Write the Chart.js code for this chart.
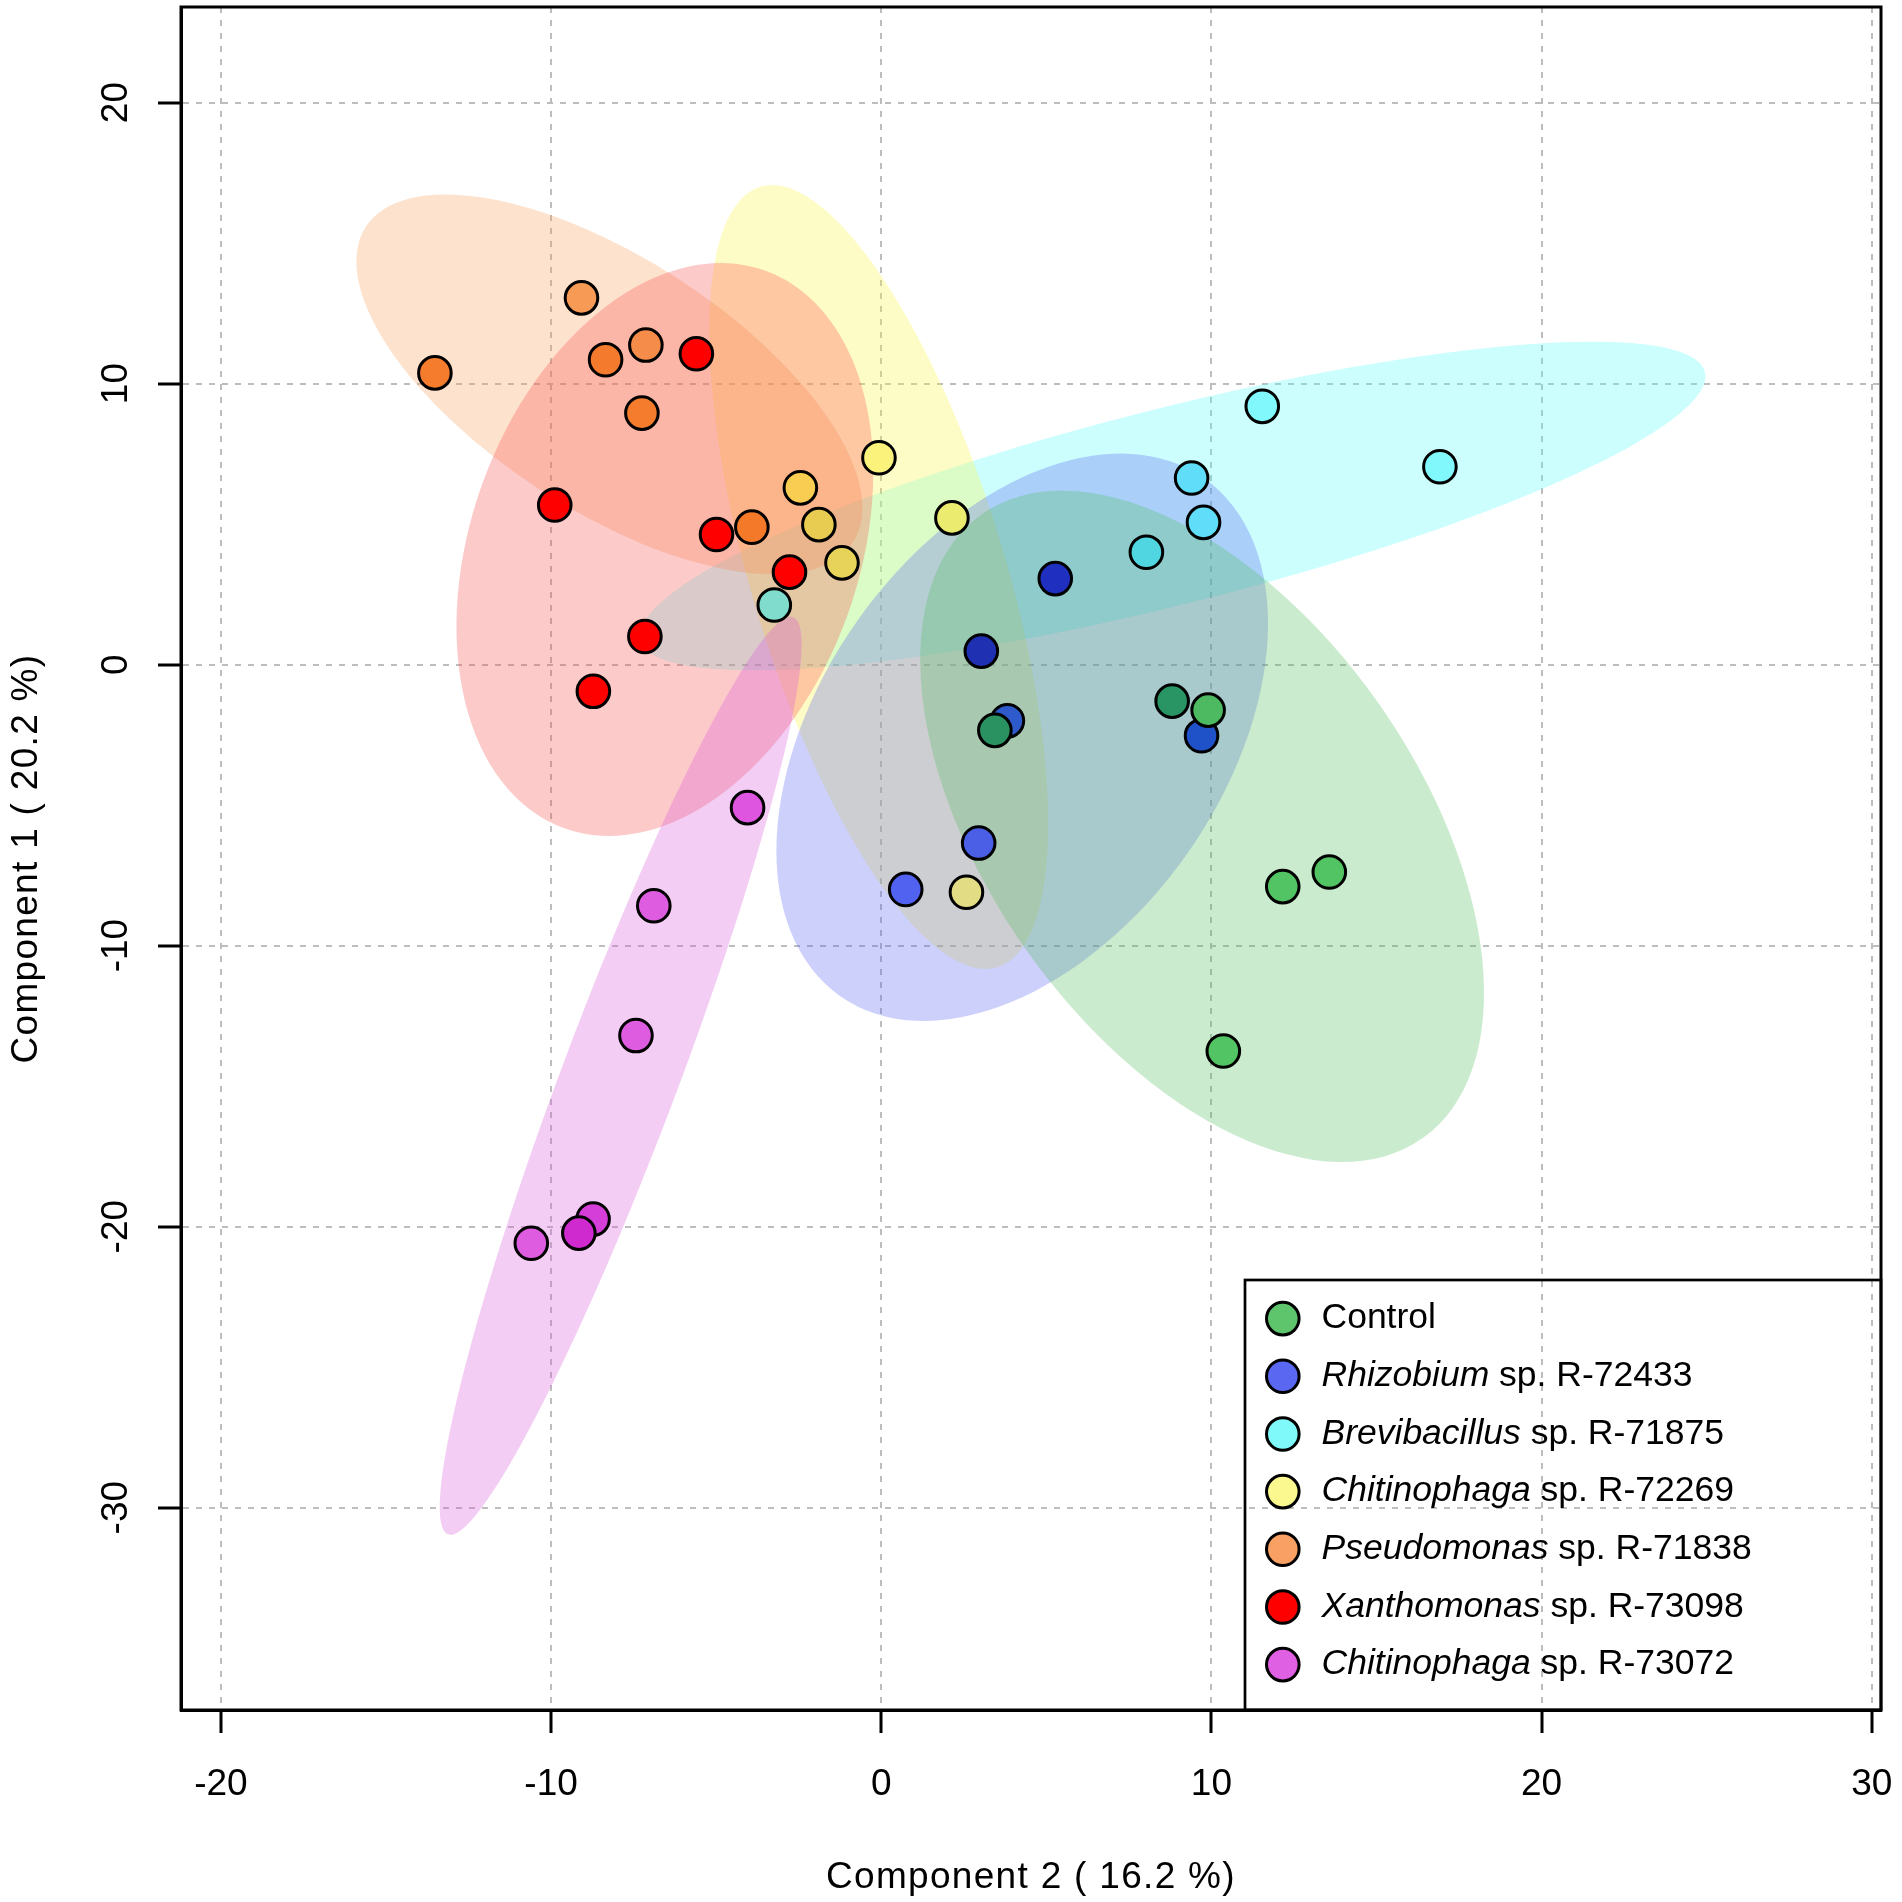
<!DOCTYPE html>
<html>
<head>
<meta charset="utf-8">
<script src="https://cdn.jsdelivr.net/npm/chart.js@4.4.1/dist/chart.umd.min.js"></script>
<style>
html,body{margin:0;padding:0;background:#ffffff;}
#wrap{width:1902px;height:1902px;position:relative;}
canvas{display:block;}
</style>
</head>
<body>
<div id="wrap"><canvas id="c" width="1902" height="1902"></canvas></div>
<script>
// ---------------- DATA ----------------
const xTicks = [-20, -10, 0, 10, 20, 30];
const yTicks = [-30, -20, -10, 0, 10, 20];
const xTitle = 'Component 2 ( 16.2 %)';
const yTitle = 'Component 1 ( 20.2 %)';

// group order: Control, Rhizobium, Brevibacillus, Chitinophaga R-72269, Pseudomonas, Xanthomonas, Chitinophaga R-73072
const legendItalic = ['', 'Rhizobium', 'Brevibacillus', 'Chitinophaga', 'Pseudomonas', 'Xanthomonas', 'Chitinophaga'];
const legendRest   = ['Control', ' sp. R-72433', ' sp. R-71875', ' sp. R-72269', ' sp. R-71838', ' sp. R-73098', ' sp. R-73072'];

const controlX = [3.44, 8.81, 9.90, 12.16, 13.57, 10.36];
const controlY = [-2.34, -1.30, -1.62, -7.90, -7.38, -13.75];

const rhizobiumX = [5.27, 3.03, 3.82, 9.70, 2.95, 0.74];
const rhizobiumY = [3.06, 0.48, -2.00, -2.53, -6.35, -8.00];

const brevibacillusX = [11.54, 16.92, 9.40, 9.76, 8.03, -3.24];
const brevibacillusY = [9.19, 7.04, 6.64, 5.06, 4.00, 2.12];

const chitino1X = [-0.07, -2.45, -1.89, -1.19, 2.14, 2.58];
const chitino1Y = [7.36, 6.29, 4.98, 3.62, 5.22, -8.10];

const pseudomonasX = [-9.08, -7.13, -8.35, -13.52, -7.25, -3.92];
const pseudomonasY = [13.05, 11.37, 10.85, 10.38, 8.95, 4.89];

const xanthomonasX = [-5.60, -9.89, -4.99, -2.78, -7.16, -8.72];
const xanthomonasY = [11.06, 5.68, 4.63, 3.29, 1.00, -0.95];

const chitino2X = [-4.05, -6.89, -7.43, -8.73, -9.16, -10.60];
const chitino2Y = [-5.09, -8.58, -13.20, -19.73, -20.23, -20.59];

// confidence ellipses (data units): centre, semi-major vector, semi-minor vector
const ellipseCX = [9.718, 4.269, 8.825, -0.076, -8.235, -6.555, -7.893];
const ellipseCY = [-5.754, -2.587, 5.644, 3.117, 9.968, 4.096, -14.633];
const ellipseAX = [6.682, 5.519, 16.122, 3.588, 7.378, 3.049, 5.229];
const ellipseAY = [-11.096, 9.206, 4.769, -13.886, -5.609, 9.921, 16.317];
const ellipseBX = [-5.316, 4.998, 0.724, -3.669, -2.074, 5.527, 1.644];
const ellipseBY = [-4.423, -4.142, -3.384, -1.310, -3.769, -2.348, -0.726];

// ---------------- STYLE ----------------
const FONT = '"Liberation Sans", Arial, Helvetica, sans-serif';
const legendColors = ['#5EC56C', '#5A67F0', '#80F9FA', '#FCF890', '#F9A064', '#FF0000', '#E060E4'];
const ellipseFill = [
  'rgba(82,188,95,0.3)',   // Control
  'rgba(88,98,238,0.3)',   // Rhizobium
  'rgba(85,252,252,0.3)',  // Brevibacillus
  'rgba(252,245,65,0.3)',  // Chitinophaga R-72269
  'rgba(248,158,88,0.3)',  // Pseudomonas
  'rgba(250,78,78,0.3)',   // Xanthomonas
  'rgba(215,88,215,0.3)'   // Chitinophaga R-73072
];
const ellipseDrawOrder = [2, 3, 1, 0, 4, 5, 6];

const controlFill = ['#2A9161', '#2A9564', '#4DBA62', '#52C464', '#52C464', '#52C464'];
const rhizobiumFill = ['#1F2FBF', '#1F30B3', '#2E5ACB', '#1F52C8', '#4A5FE6', '#5262F0'];
const brevibacillusFill = ['#80F8FC', '#80F8FC', '#60DDF8', '#60DDF8', '#50D6E0', '#80DCCC'];
const chitino1Fill = ['#FAF27A', '#F9CC52', '#E8CC52', '#E8D35A', '#EBEB70', '#E2DC84'];
const pseudomonasFill = ['#F79A55', '#F68C4A', '#F47B2D', '#F47C2C', '#F47C2C', '#F47A2A'];
const xanthomonasFill = ['#FF0000', '#FF0000', '#FF0000', '#FF0000', '#FF0000', '#FF0000'];
const chitino2Fill = ['#DE55E0', '#DD5CE0', '#DD5CE0', '#D63ED9', '#CF2ACF', '#DD5CE0'];

function pts(xs, ys) { return xs.map((v, i) => ({x: v, y: ys[i]})); }
function ds(label, xs, ys, fill) {
  return {
    label: label,
    data: pts(xs, ys),
    pointRadius: 16.3,
    pointHoverRadius: 16.3,
    pointBorderWidth: 3,
    pointHoverBorderWidth: 3,
    pointBorderColor: '#000000',
    pointBackgroundColor: fill,
    pointHoverBackgroundColor: fill,
    showLine: false,
    clip: false
  };
}

// index 0 is drawn on top
const datasets = [
  ds('Control', controlX, controlY, controlFill),
  ds('Chitinophaga sp. R-73072', chitino2X, chitino2Y, chitino2Fill),
  ds('Pseudomonas sp. R-71838', pseudomonasX, pseudomonasY, pseudomonasFill),
  ds('Xanthomonas sp. R-73098', xanthomonasX, xanthomonasY, xanthomonasFill),
  ds('Chitinophaga sp. R-72269', chitino1X, chitino1Y, chitino1Fill),
  ds('Brevibacillus sp. R-71875', brevibacillusX, brevibacillusY, brevibacillusFill),
  ds('Rhizobium sp. R-72433', rhizobiumX, rhizobiumY, rhizobiumFill)
];

const ellipsePlugin = {
  id: 'ellipses',
  beforeDatasetsDraw(chart) {
    const {ctx, chartArea: a, scales: {x, y}} = chart;
    ctx.save();
    ctx.beginPath();
    ctx.rect(a.left, a.top, a.right - a.left, a.bottom - a.top);
    ctx.clip();
    ellipseDrawOrder.forEach(i => {
      const cx = x.getPixelForValue(ellipseCX[i]);
      const cy = y.getPixelForValue(ellipseCY[i]);
      const ax = x.getPixelForValue(ellipseCX[i] + ellipseAX[i]) - cx;
      const ay = y.getPixelForValue(ellipseCY[i] + ellipseAY[i]) - cy;
      const bx = x.getPixelForValue(ellipseCX[i] + ellipseBX[i]) - cx;
      const by = y.getPixelForValue(ellipseCY[i] + ellipseBY[i]) - cy;
      ctx.save();
      ctx.transform(ax, ay, bx, by, cx, cy);
      ctx.beginPath();
      ctx.arc(0, 0, 1, 0, Math.PI * 2);
      ctx.closePath();
      ctx.restore();
      ctx.fillStyle = ellipseFill[i];
      ctx.fill();
    });
    ctx.restore();
  }
};

const decorPlugin = {
  id: 'decor',
  afterDraw(chart) {
    const {ctx, chartArea: a, scales: {y}} = chart;
    ctx.save();
    // full box
    ctx.strokeStyle = '#000';
    ctx.lineWidth = 3;
    ctx.strokeRect(a.left, a.top, a.right - a.left, a.bottom - a.top);

    // y tick labels (rotated, like R)
    ctx.fillStyle = '#000';
    ctx.font = '37px ' + FONT;
    ctx.textAlign = 'center';
    ctx.textBaseline = 'middle';
    y.ticks.forEach(t => {
      const py = y.getPixelForValue(t.value);
      ctx.save();
      ctx.translate(117, py);
      ctx.rotate(-Math.PI / 2);
      ctx.fillText(String(t.value), 0, 0);
      ctx.restore();
    });

    // axis titles
    ctx.font = '37px ' + FONT;
    try { ctx.letterSpacing = '1.3px'; } catch (e) {}
    ctx.textAlign = 'center';
    ctx.textBaseline = 'alphabetic';
    ctx.fillText(xTitle, (a.left + a.right) / 2, 1888);
    ctx.save();
    ctx.translate(27, (a.top + a.bottom) / 2);
    ctx.rotate(-Math.PI / 2);
    ctx.textBaseline = 'middle';
    ctx.fillText(yTitle, 0, 0);
    ctx.restore();
    try { ctx.letterSpacing = '0px'; } catch (e) {}

    // legend
    const L = 1245, T = 1280;
    ctx.lineWidth = 2.7;
    ctx.strokeStyle = '#000';
    ctx.strokeRect(L, T, a.right - L, a.bottom - T);
    const rowH = 57.67;
    for (let i = 0; i < legendRest.length; i++) {
      const cy = 1318.6 + i * rowH;
      ctx.beginPath();
      ctx.arc(1282.8, cy, 16.3, 0, Math.PI * 2);
      ctx.fillStyle = legendColors[i];
      ctx.fill();
      ctx.lineWidth = 3;
      ctx.strokeStyle = '#000';
      ctx.stroke();
      ctx.fillStyle = '#000';
      ctx.textAlign = 'left';
      ctx.textBaseline = 'alphabetic';
      let tx = 1321.5;
      const by = cy + 9.6;
      if (legendItalic[i]) {
        ctx.font = 'italic 35.5px ' + FONT;
        ctx.fillText(legendItalic[i], tx, by);
        tx += ctx.measureText(legendItalic[i]).width;
      }
      ctx.font = '35.5px ' + FONT;
      ctx.fillText(legendRest[i], tx, by);
    }
    ctx.restore();
  }
};

const gridCommon = {
  color: '#bdbdbd',
  lineWidth: 2,
  drawOnChartArea: true,
  drawTicks: true,
  tickLength: 23,
  tickColor: '#000000',
  tickWidth: 3,
  tickBorderDash: []
};
const borderCommon = {display: true, color: '#000000', width: 3, dash: [6, 7]};

function zeroPad(s) { s.paddingLeft = 0; s.paddingRight = 0; s.paddingTop = 0; s.paddingBottom = 0; }

new Chart(document.getElementById('c'), {
  type: 'scatter',
  data: {datasets: datasets},
  options: {
    responsive: false,
    maintainAspectRatio: false,
    devicePixelRatio: 1,
    animation: false,
    events: [],
    layout: {autoPadding: false, padding: {left: 0, top: 7, right: 21, bottom: 0}},
    plugins: {legend: {display: false}, tooltip: {enabled: false}, title: {display: false}},
    scales: {
      x: {
        type: 'linear',
        position: 'bottom',
        min: -21.21,
        max: 30.28,
        afterBuildTicks: s => { s.ticks = xTicks.map(v => ({value: v})); },
        afterFit: s => { s.height = 192; zeroPad(s); },
        grid: gridCommon,
        border: borderCommon,
        ticks: {
          color: '#000000',
          font: {family: FONT, size: 37},
          padding: 30,
          maxRotation: 0,
          minRotation: 0,
          autoSkip: false
        },
        title: {display: false}
      },
      y: {
        type: 'linear',
        position: 'left',
        min: -37.2,
        max: 23.4,
        afterBuildTicks: s => { s.ticks = yTicks.map(v => ({value: v})); },
        afterFit: s => { s.width = 181; zeroPad(s); },
        grid: gridCommon,
        border: borderCommon,
        ticks: {display: false},
        title: {display: false}
      }
    }
  },
  plugins: [ellipsePlugin, decorPlugin]
});
</script>
</body>
</html>
